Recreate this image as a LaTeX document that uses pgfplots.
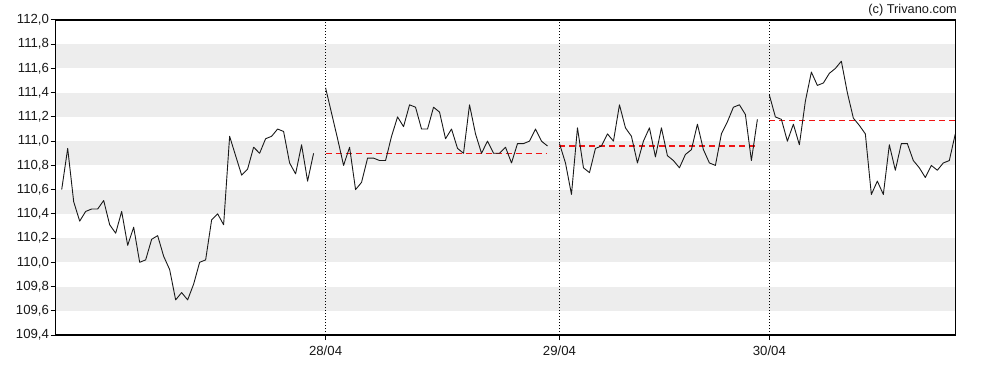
\documentclass[border=0pt]{standalone}
\usepackage{fontspec}
\setmainfont{Liberation Sans}
\usepackage{pgfplots}
\pgfplotsset{compat=1.18}
\definecolor{band}{RGB}{237,237,237}
\definecolor{lineblack}{RGB}{25,25,25}
\definecolor{avgred}{RGB}{240,20,20}
\begin{document}
\begin{tikzpicture}
\useasboundingbox (0pt,0pt) rectangle (988pt,370pt);
\begin{axis}[
  at={(55.7pt,35pt)}, anchor=south west,
  width=899.6pt, height=315pt, scale only axis,
  xmin=0, xmax=150, ymin=109.4, ymax=112.0,
  ytick={109.4,109.6,109.8,110.0,110.2,110.4,110.6,110.8,111.0,111.2,111.4,111.6,111.8,112.0},
  yticklabel style={xshift=0pt, /pgf/number format/fixed, /pgf/number format/fixed zerofill, /pgf/number format/precision=1, /pgf/number format/use comma, /pgf/number format/assume math mode=true},
  xtick={45,84,119}, xticklabels={28/04,29/04,30/04},
  tick pos=left, tick align=outside, major tick length=5pt,
  tick style={black, line width=1pt},
  axis line style={black, line width=1.2pt},
  ticklabel style={font=\fontsize{13.2}{15}\selectfont, text=black!90, inner sep=1.5pt},
  xticklabel style={yshift=-4.5pt},
]
% background bands
\addplot[draw=none, fill=band, forget plot] coordinates {(0,109.6) (150,109.6) (150,109.8) (0,109.8)} -- cycle;
\addplot[draw=none, fill=band, forget plot] coordinates {(0,110.0) (150,110.0) (150,110.2) (0,110.2)} -- cycle;
\addplot[draw=none, fill=band, forget plot] coordinates {(0,110.4) (150,110.4) (150,110.6) (0,110.6)} -- cycle;
\addplot[draw=none, fill=band, forget plot] coordinates {(0,110.8) (150,110.8) (150,111.0) (0,111.0)} -- cycle;
\addplot[draw=none, fill=band, forget plot] coordinates {(0,111.2) (150,111.2) (150,111.4) (0,111.4)} -- cycle;
\addplot[draw=none, fill=band, forget plot] coordinates {(0,111.6) (150,111.6) (150,111.8) (0,111.8)} -- cycle;
% day separators
\addplot[black, line width=0.9pt, dash pattern=on 1pt off 2pt] coordinates {(45,109.4) (45,112.0)};
\addplot[black, line width=0.9pt, dash pattern=on 1pt off 2pt] coordinates {(84,109.4) (84,112.0)};
\addplot[black, line width=0.9pt, dash pattern=on 1pt off 2pt] coordinates {(119,109.4) (119,112.0)};
% daily averages
\addplot[avgred, line width=1.5pt, dash pattern=on 6pt off 4pt] coordinates {(45,110.90) (82,110.90)};
\addplot[avgred, line width=1.5pt, dash pattern=on 6pt off 4pt] coordinates {(84,110.96) (117,110.96)};
\addplot[avgred, line width=1.5pt, dash pattern=on 6pt off 4pt] coordinates {(119,111.17) (150,111.17)};
% price
\addplot[lineblack, line width=0.9pt, line join=round] coordinates {
(1,110.60) (2,110.94) (3,110.50) (4,110.34) (5,110.42) (6,110.44) (7,110.44) (8,110.51)
(9,110.31) (10,110.24) (11,110.42) (12,110.14) (13,110.29) (14,110.00) (15,110.02) (16,110.19)
(17,110.22) (18,110.05) (19,109.94) (20,109.69) (21,109.75) (22,109.69) (23,109.82) (24,110.00)
(25,110.02) (26,110.35) (27,110.40) (28,110.31) (29,111.04) (30,110.88) (31,110.72) (32,110.77)
(33,110.95) (34,110.90) (35,111.02) (36,111.04) (37,111.10) (38,111.08) (39,110.82) (40,110.73)
(41,110.97) (42,110.67) (43,110.90)};
\addplot[lineblack, line width=0.9pt, line join=round] coordinates {
(45,111.44) (46,111.23) (47,111.02) (48,110.80) (49,110.95) (50,110.60) (51,110.66) (52,110.86)
(53,110.86) (54,110.84) (55,110.84) (56,111.04) (57,111.20) (58,111.12) (59,111.30) (60,111.28)
(61,111.10) (62,111.10) (63,111.28) (64,111.24) (65,111.02) (66,111.10) (67,110.94) (68,110.90)
(69,111.30) (70,111.06) (71,110.90) (72,111.00) (73,110.90) (74,110.90) (75,110.95) (76,110.82)
(77,110.98) (78,110.98) (79,111.00) (80,111.10) (81,111.00) (82,110.96)};
\addplot[lineblack, line width=0.9pt, line join=round] coordinates {
(84,110.98) (85,110.82) (86,110.56) (87,111.11) (88,110.78) (89,110.74) (90,110.94) (91,110.96)
(92,111.06) (93,111.00) (94,111.30) (95,111.11) (96,111.04) (97,110.82) (98,111.00) (99,111.11)
(100,110.87) (101,111.11) (102,110.88) (103,110.84) (104,110.78) (105,110.89) (106,110.93) (107,111.14)
(108,110.93) (109,110.82) (110,110.80) (111,111.06) (112,111.16) (113,111.28) (114,111.30) (115,111.22)
(116,110.84) (117,111.18)};
\addplot[lineblack, line width=0.9pt, line join=round] coordinates {
(119,111.38) (120,111.20) (121,111.18) (122,111.00) (123,111.14) (124,110.97) (125,111.33) (126,111.57)
(127,111.46) (128,111.48) (129,111.56) (130,111.60) (131,111.66) (132,111.40) (133,111.19) (134,111.13)
(135,111.06) (136,110.56) (137,110.67) (138,110.56) (139,110.97) (140,110.76) (141,110.98) (142,110.98)
(143,110.84) (144,110.78) (145,110.70) (146,110.80) (147,110.76) (148,110.82) (149,110.84) (150,111.06)};
\end{axis}
\node[anchor=base east, inner sep=0pt, font=\fontsize{12.8}{15}\selectfont, text=black!90] at (957pt,356pt) {(c) Trivano.com};
\end{tikzpicture}
\end{document}
